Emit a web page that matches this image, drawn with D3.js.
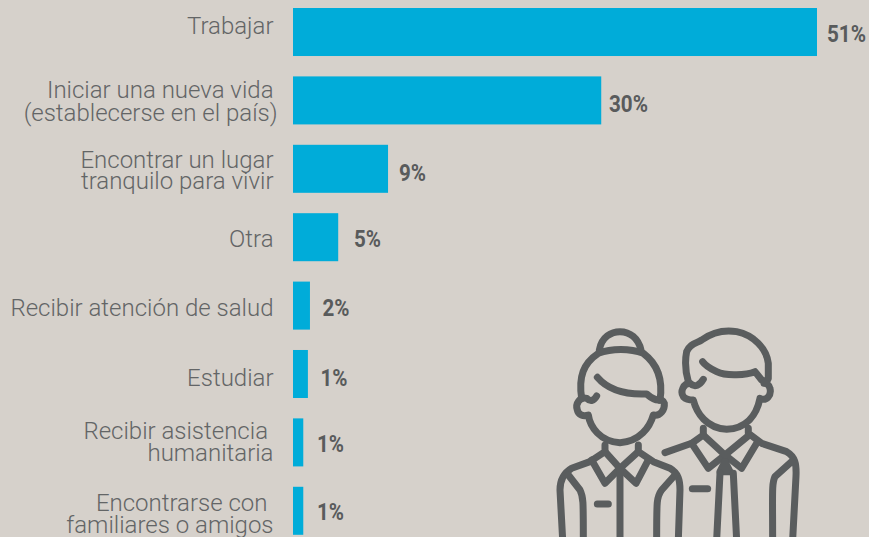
<!DOCTYPE html>
<html><head><meta charset="utf-8">
<script src="https://cdn.jsdelivr.net/npm/d3@7/dist/d3.min.js"></script>
<style>html,body{margin:0;padding:0;background:#d6d1cb;overflow:hidden}svg{display:block}</style>
</head><body><svg id="c" width="869" height="537"></svg>
<script>
const categories=["Trabajar","Iniciar una nueva vida","Encontrar un lugar","Otra","Recibir atención de salud","Estudiar","Recibir asistencia","Encontrarse con"];
const secondLines=["","(establecerse en el país)","tranquilo para vivir","","","","humanitaria","familiares o amigos"];
const barValues=[51,30,9.25,4.4,1.65,1.45,1,1];
const valueLabels=["51%","30%","9%","5%","2%","1%","1%","1%"];

const iconPaths=[
"M178 90C185 50 215 35 240 35C270 35 295 55 303 90",
"M125 235C115 170 130 130 175 100C215 85 270 85 310 100C350 130 370 175 360 240",
"M172 172C200 205 250 225 320 222C335 235 345 240 355 240",
"M170 228C160 245 150 245 140 235C120 230 105 250 112 270C115 285 130 290 145 285C150 320 180 365 240 368C300 365 330 320 340 285C360 290 375 270 373 250C370 240 360 238 358 240",
"M195 375V395L150 425L95 445C70 460 60 480 60 510L68 660",
"M295 375V395L340 425L390 445C415 460 420 480 420 510L415 660",
"M155 420L195 490L240 445L288 490L325 420",
"M195 395L240 445L295 395",
"M240 450V660",
"M85 465L120 510C130 530 130 540 130 660",
"M405 465L365 510C350 530 350 540 350 660",
"M172 552H205",
"M445 185C435 150 435 120 440 95C450 70 470 70 485 60C520 35 560 30 590 35C640 45 680 85 685 130V175C680 190 670 180 665 180L645 155C620 165 560 170 530 155C510 145 495 135 488 125",
"M490 178C480 195 465 205 450 190C430 190 420 215 430 230C440 240 455 240 460 240C470 280 500 325 560 328C620 325 650 285 660 235C680 245 695 225 690 205C688 195 680 190 672 190",
"M490 325V345L455 370L375 398",
"M625 325V340L665 370L740 395C765 410 770 430 768 470L758 660",
"M455 370L505 445L555 405L605 445L650 370",
"M490 345L555 405L628 345",
"M540 455L555 425L570 455Z",
"M540 460L530 660",
"M580 460L590 660",
"M755 425L705 470C695 490 698 520 698 660",
"M457 506H503"
];

const svg=d3.select("#c");
const x=d3.scaleLinear().domain([0,51]).range([293,817]);
const y=d3.scaleBand().domain(categories).range([8,534.8]).paddingInner(0.298);
const rows=categories.map((c,i)=>({c,s:secondLines[i],v:barValues[i],l:valueLabels[i]}));

svg.append("g").attr("transform","translate(540,320) scale(0.3333)")
 .attr("fill","none").attr("stroke","#5a5d5e").attr("stroke-width",21)
 .attr("stroke-linecap","round").attr("stroke-linejoin","round")
 .selectAll("path").data(iconPaths).join("path").attr("d",d=>d);

svg.append("g").selectAll("rect").data(rows).join("rect")
 .attr("x",x(0)).attr("y",d=>y(d.c)).attr("height",y.bandwidth())
 .attr("width",d=>x(d.v)-x(0)).attr("fill","#00acd9");

const firstDy=[1.8,-2.3,-0.5,9.6,10,12.5,-3.5,0];
const secondDy=[0,21,20,0,0,0,18.5,22];
const firstRight=[273.5,273.5,273.5,273.5,273.5,273.5,268,267.5];
const secondRight=[273.5,277.5,273.5,273.5,273.5,273.5,273.5,273.5];
const t=svg.append("g").attr("font-family","Roboto").attr("font-weight",300)
 .attr("font-size",24).attr("fill","#636566").attr("text-anchor","end");
rows.forEach((d,i)=>{
  const m=y(d.c)+y.bandwidth()/2;
  t.append("text").attr("x",firstRight[i]).attr("y",m+firstDy[i]).text(d.c);
  if(d.s) t.append("text").attr("x",secondRight[i]).attr("y",m+secondDy[i]).text(d.s);
});
const labelX=[827,609,399,354,322.5,320.5,317,317];
const labelDy=[9.7,11.9,12.2,10.1,10.4,11.7,9.3,9.2];
svg.append("g").attr("font-family","Roboto").attr("font-weight",700).attr("font-size",23)
 .attr("fill","#595b5c").selectAll("text").data(rows).join("text")
 .attr("x",(d,i)=>labelX[i]).attr("y",(d,i)=>y(d.c)+y.bandwidth()/2+labelDy[i]).attr("textLength",d=>d.l.length===3?39:27)
 .attr("lengthAdjust","spacingAndGlyphs").text(d=>d.l);
</script></body></html>
